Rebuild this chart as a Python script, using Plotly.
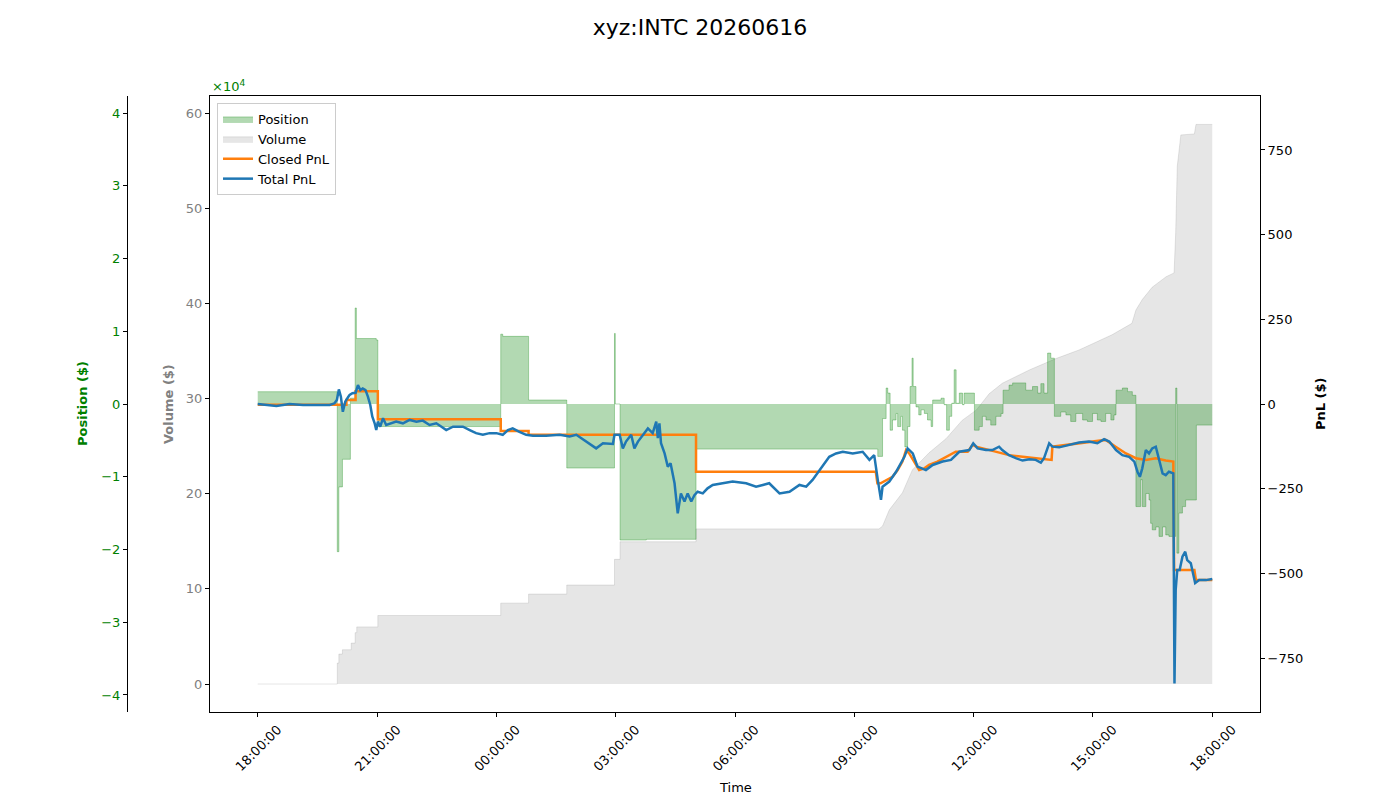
import pandas as pd
import plotly.graph_objects as go

BASE = pd.Timestamp("2026-06-15 18:00:00")

# ---- data (hours after 18:00 on 2026-06-15) ----
pos_t = [0.00, 2.00, 2.04, 2.13, 2.33, 2.45, 2.48, 2.98, 3.02, 6.11, 6.16, 6.81, 7.77, 8.97, 8.99, 9.11,
         9.77, 11.02, 15.59, 15.71, 15.80, 15.84, 15.90, 15.96, 16.05, 16.09, 16.17, 16.21, 16.27, 16.34,
         16.40, 16.45, 16.48, 16.55, 16.62, 16.68, 16.76, 16.84, 16.93, 16.97, 17.18, 17.26, 17.32, 17.39,
         17.45, 17.51, 17.56, 17.64, 17.72, 17.76, 18.02, 18.14, 18.22, 18.31, 18.43, 18.56, 18.69, 18.74,
         18.89, 18.98, 19.31, 19.48, 19.61, 19.69, 19.77, 19.86, 19.94, 20.03, 20.19, 20.32, 20.44, 20.57,
         20.74, 20.86, 20.99, 21.11, 21.20, 21.32, 21.45, 21.53, 21.58, 21.74, 21.87, 21.99, 22.08, 22.20,
         22.24, 22.33, 22.41, 22.45, 22.49, 22.58, 22.66, 22.75, 22.83, 22.91, 23.08, 23.11, 23.16, 23.25,
         23.33, 23.60, 24.00]
pos_v = [1690, -20300, -11400, -7600, 800, 13200, 9000, 8800, -3100, 9600, 9300, 550, -8800, 9700, 0, -18700,
         -18600, -6200, -7200, -2000, 2200, 1500, -3600, -2200, -1300, -3100, -1700, -3600, -5900, -3100,
         2400, 6300, 2400, -400, -1500, -800, -1300, -2200, -3100, 550, 800, -100, -3600, -1700,
         100, 4700, 100, 1500, -100, 1500, -3600, -3100, -1700, -2200, -2900, -1700, -1300, 1900,
         2600, 2900, 1900, 2400, 1500, 2800, 1500, 7000, 6300, -1700, -1100, -1500, -2400, -1300,
         -2200, -2400, -1300, -2200, -2400, -1300, -2200, -1500, 1900, 2200, 1700, 1200, -14100, -10400,
         -14100, -12300, -13200, -16400, -17300, -16900, -18200, -16900, -18000, -18200, 2200, -20500, -15000, -14100,
         -13200, -2900, -2900]

vol_t = [0.00, 2.00, 2.00, 2.04, 2.04, 2.13, 2.13, 2.35, 2.35, 2.45, 2.45, 2.49, 2.49, 3.02, 3.02, 6.11,
         6.11, 6.81, 6.81, 7.77, 7.77, 8.97, 8.97, 9.11, 9.11, 11.02, 11.02, 15.62, 15.71, 15.88, 16.21,
         16.46, 16.88, 17.31, 17.71, 18.07, 18.39, 18.72, 19.40, 20.07, 20.65, 21.48, 21.98, 22.08, 22.24,
         22.49, 22.84, 23.04, 23.08, 23.12, 23.21, 23.55, 23.59, 24.00]
vol_v = [0.0, 0.0, 2.2, 2.2, 3.15, 3.15, 3.6, 3.6, 4.3, 4.3, 5.4, 5.4, 6.0, 6.0, 7.2, 7.2,
         8.5, 8.5, 9.45, 9.45, 10.4, 10.4, 13.1, 13.1, 14.95, 14.95, 16.3, 16.3, 16.6, 18.3, 20.1,
         22.5, 24.3, 25.8, 27.7, 28.8, 30.5, 31.6, 33.0, 34.2, 35.1, 36.7, 37.9, 39.3, 40.4,
         41.7, 42.8, 43.2, 47.4, 54.4, 57.7, 57.8, 58.8, 58.8]

closed_t = [0.00, 2.23, 2.23, 2.46, 2.46, 3.02, 3.02, 6.11, 6.11, 6.81, 6.81, 11.02, 11.02, 15.54,
            15.58, 15.66, 15.96, 16.09, 16.21, 16.30, 16.38, 16.51, 16.63, 16.76, 16.88, 17.09, 17.55,
            17.85, 17.97, 18.06, 18.39, 18.89, 19.23, 19.56, 19.86, 19.96, 19.98, 20.65, 21.07, 21.32,
            21.57, 21.83, 22.08, 22.33, 22.58, 22.83, 23.02, 23.04, 23.55, 23.59, 24.00]
closed_v = [-2, -2, 12, 12, 38, 38, -45, -45, -80, -80, -91, -91, -200, -200,
            -234, -234, -215, -195, -170, -136, -146, -170, -195, -190, -180, -170, -141,
            -141, -121, -126, -136, -151, -156, -160, -165, -165, -126, -116, -111, -106,
            -126, -146, -160, -165, -160, -167, -170, -490, -490, -520, -520]

total_t = [0.00, 0.30, 0.47, 0.80, 1.14, 1.47, 1.81, 1.93, 1.99, 2.04, 2.09, 2.14, 2.20, 2.27, 2.31, 2.38,
           2.46, 2.52, 2.58, 2.64, 2.71, 2.77, 2.83, 2.88, 2.94, 2.98, 3.02, 3.08, 3.15, 3.23, 3.36, 3.48,
           3.65, 3.82, 3.99, 4.15, 4.32, 4.49, 4.62, 4.74, 4.91, 5.16, 5.33, 5.49, 5.66, 5.83, 6.00, 6.16,
           6.29, 6.41, 6.58, 6.75, 6.92, 7.25, 7.59, 7.84, 8.01, 8.17, 8.34, 8.51, 8.68, 8.93, 8.97, 9.10,
           9.18, 9.26, 9.39, 9.47, 9.56, 9.68, 9.81, 9.93, 10.02, 10.06, 10.10, 10.14, 10.23, 10.31, 10.38,
           10.48, 10.56, 10.64, 10.73, 10.81, 10.90, 10.98, 11.06, 11.19, 11.31, 11.44, 11.69, 11.94, 12.28,
           12.53, 12.70, 12.86, 13.12, 13.37, 13.62, 13.79, 13.95, 14.12, 14.37, 14.54, 14.71, 14.96, 15.21,
           15.38, 15.50, 15.59, 15.67, 15.71, 15.88, 16.05, 16.17, 16.26, 16.34, 16.47, 16.59, 16.80, 16.97,
           17.22, 17.43, 17.64, 17.89, 17.99, 18.10, 18.31, 18.47, 18.64, 18.72, 18.89, 19.06, 19.23, 19.40,
           19.56, 19.69, 19.77, 19.90, 19.98, 20.15, 20.40, 20.65, 20.90, 21.11, 21.28, 21.41, 21.58, 21.74,
           21.91, 22.04, 22.12, 22.18, 22.24, 22.33, 22.41, 22.49, 22.58, 22.66, 22.75, 22.83, 22.91, 23.02,
           23.05, 23.08, 23.12, 23.18, 23.25, 23.32, 23.37, 23.46, 23.50, 23.57, 23.67, 23.84, 24.00]
total_v = [0, -3, -6, 0, -3, -3, -3, 2, 12, 43, 22, -23, 7, 20, 27, 32,
           33, 56, 41, 46, 41, 22, -3, -37, -57, -77, -52, -67, -42, -62, -57, -52,
           -57, -47, -52, -49, -62, -57, -67, -77, -67, -67, -77, -86, -91, -86, -86, -91,
           -77, -72, -82, -91, -94, -94, -91, -96, -91, -104, -116, -131, -116, -118, -91, -91,
           -131, -111, -91, -131, -111, -91, -72, -86, -52, -101, -57, -116, -146, -185, -175,
           -234, -323, -264, -288, -264, -288, -269, -259, -264, -249, -239, -234, -229, -234,
           -244, -239, -234, -264, -259, -239, -244, -224, -195, -156, -146, -141, -146, -141,
           -165, -151, -224, -283, -244, -229, -200, -175, -156, -131, -146, -185, -195, -180,
           -170, -165, -141, -136, -116, -131, -136, -136, -126, -136, -151, -160, -167, -163,
           -165, -173, -160, -116, -126, -128, -121, -114, -111, -116, -104, -111, -136, -151,
           -156, -170, -200, -215, -190, -136, -146, -131, -126, -165, -205, -210, -200, -205,
           -825, -549, -490, -490, -451, -436, -461, -470, -490, -529, -520, -520, -517]

pos_ticks = [-40000, -30000, -20000, -10000, 0, 10000, 20000, 30000, 40000]
pos_tick_text = ["\u22124", "\u22123", "\u22122", "\u22121", "0", "1", "2", "3", "4"]
vol_ticks = [0, 10, 20, 30, 40, 50, 60]
pnl_ticks = [-750, -500, -250, 0, 250, 500, 750]
pnl_tick_text = ["\u2212750", "\u2212500", "\u2212250", "0", "250", "500", "750"]
time_tick_hours = [0, 3, 6, 9, 12, 15, 18, 21, 24]


def to_time(hours):
    return [BASE + pd.Timedelta(hours=h) for h in hours]


FONT = "DejaVu Sans"
fig = go.Figure()

fig.add_trace(go.Scatter(
    x=to_time(vol_t), y=vol_v, name="Volume", yaxis="y", mode="lines",
    line=dict(color="rgba(128,128,128,0.2)", width=1, shape="linear"),
    fill="tozeroy", fillcolor="rgba(128,128,128,0.2)", legendrank=2, hoverinfo="skip"))

fig.add_trace(go.Scatter(
    x=to_time(pos_t), y=pos_v, name="Position", yaxis="y2", mode="lines",
    line=dict(color="rgba(0,128,0,0.3)", width=1, shape="hv"),
    fill="tozeroy", fillcolor="rgba(0,128,0,0.3)", legendrank=1, hoverinfo="skip"))

fig.add_trace(go.Scatter(
    x=to_time(closed_t), y=closed_v, name="Closed PnL", yaxis="y3", mode="lines",
    line=dict(color="#ff7f0e", width=2.5, shape="linear"), legendrank=3))

fig.add_trace(go.Scatter(
    x=to_time(total_t), y=total_v, name="Total PnL", yaxis="y3", mode="lines",
    line=dict(color="#1f77b4", width=2.5), legendrank=4))

L, R, T, B = 20, 140, 96, 88
W = 1400 - L - R
H = 800 - T - B


def px(xp):
    return (xp - L) / W


def py(yp):
    return (800 - B - yp) / H


tick_font = dict(family=FONT, size=13)
fig.update_layout(
    width=1400, height=800,
    margin=dict(l=L, r=R, t=T, b=B),
    paper_bgcolor="white", plot_bgcolor="white",
    font=dict(family=FONT, size=13, color="black"),
    showlegend=True,
    legend=dict(x=px(217), y=py(103), xanchor="left", yanchor="top",
                bgcolor="rgba(255,255,255,0.8)", bordercolor="#cccccc", borderwidth=1,
                font=dict(family=FONT, size=13), tracegroupgap=0),
    title=dict(text="xyz:INTC 20260616", x=0.5, xref="container", xanchor="center",
               y=1 - 27 / 800, yref="container", yanchor="middle",
               font=dict(family=FONT, size=22, color="black")),
    xaxis=dict(
        type="date", domain=[px(210), 1],
        range=[BASE - pd.Timedelta(hours=1.2), BASE + pd.Timedelta(hours=25.2)],
        tickvals=to_time(time_tick_hours), tickformat="%H:%M:%S", tickangle=-45,
        ticklabelshift=20,
        ticks="outside", ticklen=4, tickcolor="black", showgrid=False, zeroline=False,
        showline=True, linecolor="black", linewidth=1, mirror=True, tickfont=tick_font),
    yaxis=dict(
        range=[-2.94, 61.79], tickvals=vol_ticks, ticks="outside", ticklen=4, tickcolor="black",
        tickfont=dict(family=FONT, size=13, color="gray"), showgrid=False, zeroline=False,
        showline=True, linecolor="black", linewidth=1, anchor="x", side="left"),
    yaxis2=dict(
        range=[-42340, 42340], tickvals=pos_ticks, ticktext=pos_tick_text, overlaying="y",
        anchor="free", position=px(127), side="left", ticks="outside", ticklen=4, tickcolor="black",
        tickfont=dict(family=FONT, size=13, color="green"), showgrid=False, zeroline=False,
        showline=True, linecolor="black", linewidth=1),
    yaxis3=dict(
        range=[-909.4, 909.4], tickvals=pnl_ticks, ticktext=pnl_tick_text, overlaying="y",
        anchor="x", side="right", ticks="outside", ticklen=4, tickcolor="black",
        tickfont=tick_font, showgrid=False, zeroline=False,
        showline=True, linecolor="black", linewidth=1),
    annotations=[
        dict(text="<b>Position ($)</b>", x=px(82), y=py(404), xref="paper", yref="paper",
             xanchor="center", yanchor="middle",
             textangle=-90, showarrow=False, font=dict(family=FONT, size=13, color="green")),
        dict(text="<b>Volume ($)</b>", x=px(168), y=py(404), xref="paper", yref="paper",
             xanchor="center", yanchor="middle",
             textangle=-90, showarrow=False, font=dict(family=FONT, size=13, color="gray")),
        dict(text="<b>PnL ($)</b>", x=px(1320), y=py(404), xref="paper", yref="paper",
             xanchor="center", yanchor="middle",
             textangle=-90, showarrow=False, font=dict(family=FONT, size=13, color="black")),
        dict(text="Time", x=px(735), y=py(787), xref="paper", yref="paper",
             xanchor="center", yanchor="middle",
             showarrow=False, font=dict(family=FONT, size=13, color="black")),
        dict(text="\u00d710<sup>4</sup>", x=px(210), y=py(86), xref="paper", yref="paper",
             xanchor="left", yanchor="middle", showarrow=False,
             font=dict(family=FONT, size=13, color="green")),
    ],
)

fig.write_html("out.html")
